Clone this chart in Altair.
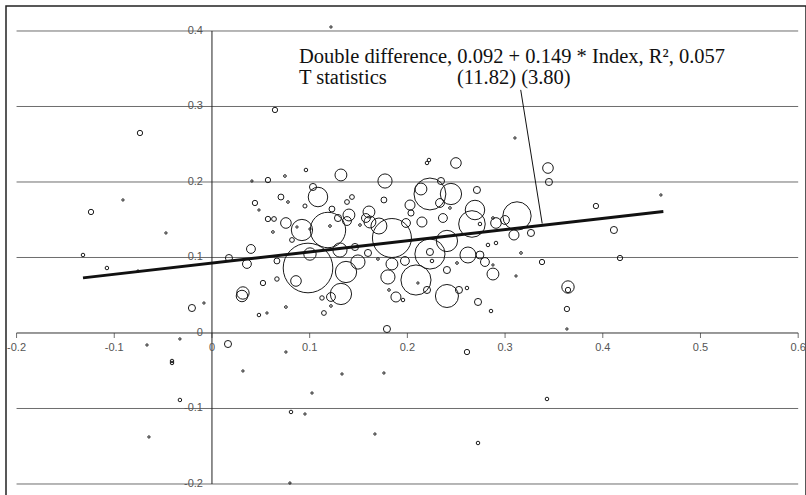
import altair as alt
import pandas as pd

# ---- bubble data (Index on x, double difference on y, weight -> bubble area)
bx = [-0.0737, -0.1238, -0.0911, -0.0471, -0.1320, -0.1075, -0.0757, -0.0205, -0.0082, 0.0174,
      0.0399, 0.0358, 0.0522, 0.0317, 0.0307, 0.0481, 0.0563, 0.0440, 0.0481, 0.0573,
      0.0409, 0.0573, -0.0328, -0.0665, -0.0409, -0.0409, -0.0328, -0.0645, 0.0164, 0.0317,
      0.0757, 0.1331, 0.1760, 0.1024, 0.0809, 0.0952, 0.1668, 0.2723, 0.0798, 0.2610,
      0.1791, 0.3429, 0.3449, 0.3439, 0.4595, 0.3930, 0.4114, 0.4176, 0.3378, 0.3644,
      0.3644, 0.3633, 0.3633, 0.1218, 0.0645, 0.3101, 0.2201, 0.2221, 0.2497,
      0.0962, 0.0747, 0.1034, 0.1085, 0.0706, 0.0778, 0.0952, 0.0635, 0.0757, 0.0921,
      0.0870, 0.1003, 0.0624, 0.1187, 0.0819, 0.0665, 0.1003, 0.0983, 0.0860, 0.0665,
      0.1126, 0.0757, 0.1146, 0.1320, 0.1771, 0.1382, 0.1433, 0.1760, 0.2231, 0.2139,
      0.2344, 0.2446, 0.2712, 0.2334, 0.2027, 0.2436, 0.1228, 0.1402, 0.1290, 0.1382,
      0.1607, 0.2037, 0.2692, 0.3122, 0.2999, 0.2149, 0.2364, 0.2661, 0.2907, 0.1617,
      0.1709, 0.1842, 0.1986, 0.1515, 0.1576, 0.1208, 0.2743, 0.2876, 0.3091, 0.3265,
      0.2405, 0.2825, 0.2907, 0.2231, 0.2231, 0.2252, 0.2620, 0.2743, 0.3163, 0.2794,
      0.2876, 0.3112, 0.2876, 0.2508, 0.2405, 0.1372, 0.1494, 0.1597, 0.1699, 0.1842,
      0.1975, 0.1801, 0.2088, 0.2108, 0.2405, 0.2528, 0.2610, 0.2723, 0.2856, 0.1883,
      0.1955, 0.1812, 0.1320, 0.1218, 0.1218, 0.1464, 0.1310, 0.2201]
by = [0.2649, 0.1603, 0.1762, 0.1325, 0.1033, 0.0861, 0.0821, 0.0331, 0.0397, 0.0993,
      0.1113, 0.0914, 0.0662, 0.0530, 0.0490, 0.0238, 0.0265, 0.1722, 0.1629, 0.1510,
      0.2013, 0.2026, -0.0079, -0.0159, -0.0371, -0.0397, -0.0887, -0.1377, -0.0146, -0.0503,
      -0.0252, -0.0543, -0.0530, -0.0795, -0.1046, -0.1073, -0.1338, -0.1457, -0.1987, -0.0252,
      0.0053, -0.0874, 0.2000, 0.2185, 0.1828, 0.1682, 0.1364, 0.0993, 0.0940, 0.0609,
      0.0570, 0.0318, 0.0053, 0.4053, 0.2954, 0.2583, 0.2252, 0.2291, 0.2252,
      0.2159, 0.2079, 0.1934, 0.1801, 0.1801, 0.1735, 0.1682, 0.1510, 0.1457, 0.1364,
      0.1404, 0.1377, 0.1338, 0.1364, 0.1232, 0.0954, 0.1046, 0.0861, 0.0689, 0.0715,
      0.0464, 0.0344, 0.0265, 0.2093, 0.2013, 0.1735, 0.1801, 0.1762, 0.1841, 0.1907,
      0.2013, 0.1841, 0.1894, 0.1722, 0.1695, 0.1656, 0.1642, 0.1563, 0.1523, 0.1483,
      0.1603, 0.1589, 0.1629, 0.1550, 0.1497, 0.1470, 0.1523, 0.1444, 0.1457, 0.1470,
      0.1417, 0.1258, 0.1457, 0.1430, 0.1523, 0.1417, 0.1444, 0.1523, 0.1298, 0.1325,
      0.1219, 0.1166, 0.1192, 0.1046, 0.1073, 0.0954, 0.1033, 0.1033, 0.1060, 0.0940,
      0.0781, 0.0755, 0.0901, 0.0927, 0.0834, 0.0808, 0.0940, 0.1060, 0.0980, 0.0914,
      0.0954, 0.0742, 0.0702, 0.0662, 0.0490, 0.0570, 0.0596, 0.0411, 0.0291, 0.0477,
      0.0437, 0.0570, 0.0517, 0.0477, 0.0358, 0.1139, 0.1099, 0.0570]
bw = [9, 9, 1.7, 1.7, 4, 4, 1.7, 16, 1.7, 16,
      25, 25, 9, 49, 42, 4, 1.7, 9, 1.7, 9,
      1.7, 9, 1.7, 1.7, 4, 4, 4, 1.7, 16, 1.7,
      1.7, 1.7, 1.7, 1.7, 4, 1.7, 1.7, 4, 1.7, 9,
      16, 4, 16, 36, 1.7, 9, 16, 9, 9, 49,
      9, 9, 1.7, 1.7, 9, 1.7, 4, 4, 36,
      4, 2.25, 16, 121, 11, 2.25, 5.3, 7.3, 36, 144,
      1.7, 1.7, 2.25, 400, 7.3, 11, 49, 784, 36, 6.25,
      6.25, 2.25, 7.3, 45, 64, 7.3, 7.3, 11, 324, 45,
      16, 144, 16, 25, 32, 2.25, 11, 45, 16, 25,
      45, 12, 121, 256, 25, 32, 25, 225, 36, 45,
      81, 484, 25, 2.25, 25, 2.25, 4, 2.25, 32, 16,
      144, 4, 4, 289, 16, 4, 81, 20, 2.25, 25,
      45, 1.7, 1.7, 2.25, 16, 144, 64, 16, 2.25, 45,
      25, 64, 289, 1.7, 169, 16, 4, 16, 4, 32,
      4, 2.25, 144, 25, 2.25, 16, 64, 16]

# ---- fitted line and annotation
line_x = [-0.132, 0.462]
line_y = [0.073, 0.161]
leader_x = [0.316, 0.338]
leader_y = [0.322, 0.145]
eq_text = "Double difference, 0.092 + 0.149 * Index, R\u00b2, 0.057"
t_label = "T statistics"
t_values = "(11.82) (3.80)"

# ---- axes
x_ticks = [-0.2, -0.1, 0, 0.1, 0.2, 0.3, 0.4, 0.5, 0.6]
x_tick_labels = ["-0.2", "-0.1", "0", "0.1", "0.2", "0.3", "0.4", "0.5", "0.6"]
y_ticks = [-0.2, -0.1, 0, 0.1, 0.2, 0.3, 0.4]
y_tick_labels = ["-0.2", "-0.1", "0", "0.1", "0.2", "0.3", "0.4"]
grid_y = [-0.2, -0.1, 0.1, 0.2, 0.3, 0.4]

XDOM = [-0.2108, 0.6080]
YDOM = [-0.2212, 0.4331]
xs = alt.Scale(domain=XDOM, nice=False, zero=False)
ys = alt.Scale(domain=YDOM, nice=False, zero=False)

bubbles = pd.DataFrame({"x": bx, "y": by, "w": bw})
grid_df = pd.DataFrame({"y": grid_y, "x1": [-0.2] * len(grid_y), "x2": [0.6] * len(grid_y)})
xt_df = pd.DataFrame({"x": x_ticks, "lab": x_tick_labels, "y": [0] * len(x_ticks)})
yt_df = pd.DataFrame({"y": y_ticks, "lab": y_tick_labels, "x": [0] * len(y_ticks)})
line_df = pd.DataFrame({"x": line_x, "y": line_y})
leader_df = pd.DataFrame({"x": [leader_x[0]], "x2": [leader_x[1]], "y": [leader_y[0]], "y2": [leader_y[1]]})
ann_df = pd.DataFrame({
    "x": [0.089, 0.089, 0.2508],
    "y": [0.3576, 0.3292, 0.3292],
    "t": [eq_text, t_label, t_values],
})

X = lambda f: alt.X(f, type="quantitative", scale=xs, axis=None)
Y = lambda f: alt.Y(f, type="quantitative", scale=ys, axis=None)

grid = alt.Chart(grid_df).mark_rule(color="#6e6e6e", strokeWidth=1).encode(
    x=X("x1"), x2="x2", y=Y("y"))

xaxis = alt.Chart(pd.DataFrame({"x1": [-0.2], "x2": [0.6], "y": [0]})).mark_rule(
    color="#333", strokeWidth=1).encode(x=X("x1"), x2="x2", y=Y("y"))
yaxis = alt.Chart(pd.DataFrame({"y1": [-0.2], "y2": [0.4], "x": [0]})).mark_rule(
    color="#222", strokeWidth=1).encode(y=Y("y1"), y2="y2", x=X("x"))

xticks = alt.Chart(xt_df).mark_tick(orient="vertical", size=5, thickness=1, color="#333", yOffset=2.5).encode(
    x=X("x"), y=Y("y"))
xlabels = alt.Chart(xt_df).mark_text(font="Liberation Sans", fontSize=11, color="#555", dy=15,
                                     baseline="middle", align="center").encode(
    x=X("x"), y=Y("y"), text="lab:N")
ylabels = alt.Chart(yt_df).mark_text(font="Liberation Sans", fontSize=11, color="#555", dx=-9,
                                     baseline="middle", align="right").encode(
    x=X("x"), y=Y("y"), text="lab:N")

pts = alt.Chart(bubbles).mark_point(shape="circle", filled=False, color="#1a1a1a", strokeWidth=1,
                                    opacity=1).encode(
    x=X("x"), y=Y("y"),
    size=alt.Size("w:Q", scale=alt.Scale(type="linear", domain=[0, 1000], range=[0, 3141.6]), legend=None))

fit = alt.Chart(line_df).mark_line(color="#111", strokeWidth=3).encode(x=X("x"), y=Y("y"))
leader = alt.Chart(leader_df).mark_rule(color="#111", strokeWidth=1).encode(
    x=X("x"), x2="x2", y=Y("y"), y2="y2")
ann = alt.Chart(ann_df).mark_text(font="Liberation Serif", fontSize=20.5, color="#111",
                                  align="left", baseline="alphabetic").encode(
    x=X("x"), y=Y("y"), text="t:N")

chart = alt.layer(grid, xaxis, yaxis, xticks, xlabels, ylabels, pts, fit, leader, ann).properties(
    width=800, height=494, autosize="none",
    padding={"left": 6, "top": 6, "right": 0, "bottom": 0},
    background="white",
).configure_view(stroke="#222", strokeWidth=1.5)

chart.save("out.html", embed_options={"renderer": "svg", "actions": False})
